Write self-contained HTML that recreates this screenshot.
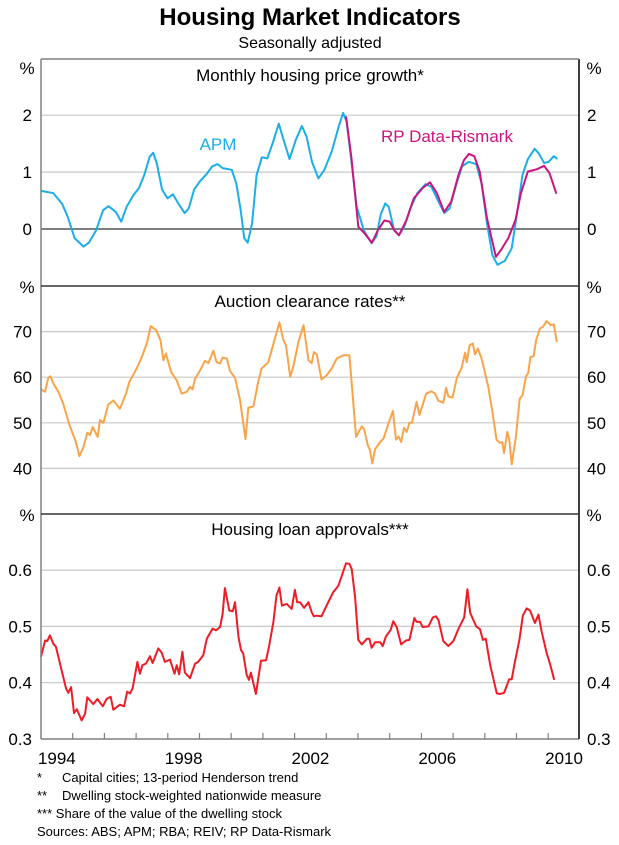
<!DOCTYPE html>
<html><head><meta charset="utf-8"><style>
body{margin:0;background:#fff;}
svg{display:block;font-family:"Liberation Sans",Arial,sans-serif;}
</style></head><body>
<svg id="chart" width="619" height="845" viewBox="0 0 619 845">
<text x="310" y="25" text-anchor="middle" font-size="24" font-weight="bold">Housing Market Indicators</text>
<text x="310" y="48" text-anchor="middle" font-size="16">Seasonally adjusted</text>
<g id="grid"></g>
<g id="series"></g>
<g id="frame"></g>
<g id="labels" font-size="17"></g>
<text x="310" y="81" text-anchor="middle" font-size="17">Monthly housing price growth*</text>
<text x="310" y="307" text-anchor="middle" font-size="17">Auction clearance rates**</text>
<text x="310" y="535" text-anchor="middle" font-size="17">Housing loan approvals***</text>
<text x="218" y="150" text-anchor="middle" font-size="17" fill="#1AAFE6">APM</text>
<text x="447" y="142" text-anchor="middle" font-size="17" fill="#CC1480">RP Data-Rismark</text>
<g font-size="13">
<text x="37" y="782">*</text>
<text x="62" y="782">Capital cities; 13-period Henderson trend</text>
<text x="37" y="800">**</text>
<text x="62" y="800">Dwelling stock-weighted nationwide measure</text>
<text x="37" y="818">*** Share of the value of the dwelling stock</text>
<text x="37" y="836">Sources: ABS; APM; RBA; REIV; RP Data-Rismark</text>
</g>
</svg>
<script>
const apmDates=[1994.01,1994.39,1994.67,1994.84,1995.06,1995.34,1995.51,1995.74,1995.96,1996.13,1996.36,1996.53,1996.7,1996.92,1997.09,1997.26,1997.43,1997.54,1997.65,1997.82,1997.99,1998.16,1998.33,1998.53,1998.66,1998.83,1999.0,1999.23,1999.4,1999.57,1999.73,2000.02,2000.16,2000.3,2000.41,2000.52,2000.66,2000.8,2000.97,2001.14,2001.31,2001.5,2001.65,2001.84,2002.04,2002.23,2002.38,2002.55,2002.75,2002.94,2003.17,2003.39,2003.53,2003.64,2003.79,2003.96,2004.18,2004.43,2004.58,2004.72,2004.86,2004.97,2005.14,2005.29,2005.46,2005.65,2005.87,2006.13,2006.32,2006.49,2006.72,2006.89,2007.11,2007.28,2007.5,2007.73,2007.9,2008.07,2008.24,2008.4,2008.63,2008.85,2009.02,2009.19,2009.36,2009.57,2009.7,2009.87,2010.01,2010.18,2010.29];
const apmValues=[0.67,0.63,0.44,0.22,-0.16,-0.31,-0.24,-0.02,0.33,0.40,0.30,0.13,0.39,0.60,0.72,0.95,1.27,1.34,1.16,0.69,0.54,0.61,0.45,0.28,0.36,0.69,0.83,0.97,1.10,1.14,1.07,1.04,0.80,0.33,-0.16,-0.24,0.10,0.95,1.26,1.24,1.51,1.85,1.57,1.23,1.57,1.81,1.62,1.18,0.89,1.04,1.36,1.80,2.04,1.89,1.21,0.39,-0.02,-0.25,-0.13,0.26,0.45,0.39,-0.02,-0.11,0.04,0.36,0.63,0.79,0.74,0.54,0.28,0.36,0.80,1.10,1.18,1.14,0.80,0.10,-0.46,-0.63,-0.56,-0.34,0.28,0.95,1.23,1.41,1.33,1.16,1.18,1.28,1.23];
const rpDates=[2003.62,2003.79,2004.01,2004.18,2004.44,2004.63,2004.83,2005.0,2005.14,2005.29,2005.53,2005.76,2006.04,2006.27,2006.49,2006.72,2006.94,2007.17,2007.34,2007.5,2007.67,2007.84,2008.07,2008.35,2008.52,2008.74,2008.97,2009.14,2009.36,2009.64,2009.87,2010.04,2010.26];
const rpValues=[1.98,1.27,0.04,-0.06,-0.24,-0.02,0.15,0.13,-0.02,-0.11,0.16,0.54,0.72,0.82,0.63,0.30,0.48,0.95,1.21,1.32,1.28,1.01,0.19,-0.49,-0.36,-0.16,0.16,0.63,1.01,1.05,1.11,0.98,0.62];
const aucDates=[1994.0,1994.13,1994.23,1994.3,1994.39,1994.55,1994.7,1994.9,1995.1,1995.21,1995.34,1995.46,1995.55,1995.63,1995.79,1995.86,1995.97,1996.12,1996.28,1996.49,1996.68,1996.79,1997.02,1997.18,1997.35,1997.46,1997.63,1997.77,1997.86,1997.94,1998.1,1998.28,1998.44,1998.6,1998.7,1998.78,1998.86,1999.02,1999.17,1999.28,1999.44,1999.54,1999.65,1999.73,1999.86,1999.96,2000.12,2000.28,2000.45,2000.54,2000.7,2000.86,2000.96,2001.17,2001.38,2001.52,2001.65,2001.73,2001.86,2001.96,2002.12,2002.28,2002.44,2002.54,2002.61,2002.7,2002.85,2003.01,2003.17,2003.33,2003.54,2003.73,2003.94,2004.12,2004.19,2004.31,2004.38,2004.45,2004.54,2004.7,2004.8,2004.96,2005.1,2005.2,2005.28,2005.36,2005.45,2005.54,2005.62,2005.7,2005.85,2005.94,2006.15,2006.32,2006.43,2006.54,2006.69,2006.78,2006.85,2006.98,2007.12,2007.27,2007.38,2007.43,2007.52,2007.62,2007.69,2007.78,2007.9,2008.11,2008.25,2008.37,2008.48,2008.55,2008.61,2008.71,2008.77,2008.85,2008.98,2009.1,2009.19,2009.3,2009.37,2009.44,2009.54,2009.62,2009.74,2009.83,2009.95,2010.08,2010.18,2010.27];
const aucValues=[57.3,56.8,59.9,60.2,58.6,56.8,54.2,49.5,45.8,42.7,44.7,47.8,47.3,49.1,46.9,50.6,50.0,54.0,54.9,53.1,56.4,59.0,61.9,64.4,67.7,71.2,70.3,68.1,63.7,65.2,61.2,59.3,56.4,56.8,57.9,57.3,59.7,61.5,63.6,63.1,65.8,63.3,63.0,64.3,64.1,61.4,59.9,54.9,46.4,53.3,53.6,59.3,61.9,63.3,68.5,72.0,68.1,67.0,60.1,62.3,67.7,71.4,63.7,63.1,65.5,65.0,59.5,60.4,61.9,64.1,64.8,64.8,46.9,49.2,48.7,45.1,44.0,41.1,44.2,45.8,46.5,49.8,52.6,46.3,47.0,45.8,48.9,48.0,50.0,50.0,54.6,51.7,56.4,56.9,56.4,54.8,54.4,57.7,55.8,55.5,59.9,62.1,65.4,63.3,67.0,67.4,65.0,66.3,64.1,57.9,52.0,46.3,45.6,45.8,43.4,48.0,46.5,40.9,46.9,55.3,56.0,60.2,60.9,64.4,64.6,68.2,70.7,71.0,72.3,71.4,71.6,67.7];
const loanDates=[1994.0,1994.13,1994.2,1994.28,1994.39,1994.47,1994.6,1994.79,1994.86,1994.95,1995.04,1995.13,1995.28,1995.39,1995.46,1995.65,1995.78,1995.95,1996.07,1996.2,1996.28,1996.49,1996.62,1996.72,1996.81,1996.89,1997.04,1997.12,1997.2,1997.31,1997.44,1997.52,1997.7,1997.81,1997.91,1998.07,1998.21,1998.28,1998.36,1998.46,1998.54,1998.7,1998.86,1998.96,1999.12,1999.23,1999.41,1999.52,1999.65,1999.73,1999.8,1999.94,2000.05,2000.12,2000.23,2000.31,2000.38,2000.49,2000.56,2000.62,2000.78,2000.94,2001.1,2001.2,2001.33,2001.43,2001.52,2001.6,2001.75,2001.91,2002.01,2002.08,2002.17,2002.3,2002.44,2002.54,2002.61,2002.7,2002.85,2003.01,2003.22,2003.38,2003.49,2003.62,2003.73,2003.8,2003.91,2004.01,2004.12,2004.28,2004.36,2004.43,2004.54,2004.7,2004.78,2004.88,2005.03,2005.11,2005.22,2005.36,2005.51,2005.62,2005.78,2005.85,2005.96,2006.04,2006.22,2006.36,2006.46,2006.54,2006.69,2006.85,2007.01,2007.17,2007.35,2007.45,2007.54,2007.73,2007.85,2007.94,2008.03,2008.17,2008.38,2008.48,2008.61,2008.77,2008.85,2008.95,2009.09,2009.2,2009.32,2009.43,2009.58,2009.69,2009.79,2009.95,2010.06,2010.19];
const loanValues=[.446,.475,.474,.484,.469,.464,.434,.390,.382,.392,.346,.353,.333,.345,.374,.362,.371,.358,.371,.375,.352,.361,.358,.384,.381,.390,.437,.416,.431,.434,.447,.435,.461,.453,.437,.441,.416,.431,.415,.455,.418,.408,.434,.437,.449,.478,.496,.493,.499,.522,.568,.528,.527,.543,.481,.458,.452,.414,.405,.418,.380,.439,.440,.466,.508,.555,.569,.537,.540,.531,.565,.543,.543,.533,.543,.525,.518,.519,.518,.537,.561,.572,.590,.612,.611,.602,.552,.476,.468,.478,.478,.462,.472,.472,.465,.482,.494,.509,.499,.468,.475,.476,.515,.508,.508,.499,.500,.516,.518,.511,.474,.465,.474,.496,.516,.566,.524,.500,.495,.476,.478,.431,.381,.380,.382,.406,.406,.437,.476,.519,.532,.528,.506,.521,.492,.453,.433,.405];
const p1Ticks=[2,1,0];
const p2Ticks=[70,60,50,40];
const p3Ticks=["0.6","0.5","0.4","0.3"];
const yearLabels=[1994,1998,2002,2006,2010];

const NS="http://www.w3.org/2000/svg";
const L=41,R=579;
function xS(t){return L+(t-1994)*31.7;}
function y1(v){return 229-v*56.9;}
function y2(v){return 514-(v-30)*4.56;}
function y3(v){return 739-(v-0.3)*563;}
function mk(parent,tag,attrs){const e=document.createElementNS(NS,tag);for(const k in attrs)e.setAttribute(k,attrs[k]);document.getElementById(parent).appendChild(e);return e;}
function line(parent,x1,y1_,x2,y2_,stroke,w){return mk(parent,'line',{x1:x1,y1:y1_,x2:x2,y2:y2_,stroke:stroke,'stroke-width':w});}

p1Ticks.forEach(v=>{const g=line('grid',L,y1(v),R,y1(v),v===0?'#555':'#c8c8c8',v===0?1.5:1.2);

});
p2Ticks.forEach(v=>{const g=line('grid',L,y2(v),R,y2(v),'#c8c8c8',1.2);

});
p3Ticks.forEach(v=>{if(+v===0.3)return;const g=line('grid',L,y3(+v),R,y3(+v),'#c8c8c8',1.2);

});

function series(dates,vals,yf,color,name){
  let d='';dates.forEach((t,i)=>{d+=(i?'L':'M')+xS(t).toFixed(1)+','+yf(vals[i]).toFixed(1);});
  const p=mk('series','path',{d:d,fill:'none',stroke:color,'stroke-width':2,'stroke-linejoin':'round'});
  
  
}
series(apmDates,apmValues,y1,'#1AAFE6','apm-line');
series(rpDates,rpValues,y1,'#CC1480','rp-data-line');
series(aucDates,aucValues,y2,'#F9A44A','auction-clearance-line');
series(loanDates,loanValues,y3,'#EE1C25','loan-approvals-line');

[[L,59,L,739,'#808080'],[L,739,R,739,'#808080'],[R,59,R,739,'#000'],[L,59,R,59,'#808080'],[L,286,R,286,'#333'],[L,514,R,514,'#333']].forEach(a=>{
  const f=line('frame',a[0],a[1],a[2],a[3],a[4],1.5);
  
  
});
for(let yr=1995;yr<=2010;yr++){const tk=line('frame',xS(yr),733,xS(yr),739,'#808080',1.2);

}

function txt(x,y,s,anchor,name){const t=mk('labels','text',{x:x,y:y,'text-anchor':anchor});t.textContent=s;

return t;}
yearLabels.forEach(yr=>{txt(xS(yr+0.5),764,String(yr),'middle','x-tick-label');});
p1Ticks.forEach(v=>{txt(32,y1(v)+6,String(v),'end','y-tick-label-left');txt(587,y1(v)+6,String(v),'start','y-tick-label-right');});
p2Ticks.forEach(v=>{txt(32,y2(v)+6,String(v),'end','y-tick-label-left');txt(587,y2(v)+6,String(v),'start','y-tick-label-right');});
p3Ticks.forEach(v=>{txt(32,y3(+v)+6,v,'end','y-tick-label-left');txt(587,y3(+v)+6,v,'start','y-tick-label-right');});
[74,293,521].forEach(y=>{txt(27,y,'%','middle','unit-label-left');txt(594,y,'%','middle','unit-label-right');});
</script>
</body></html>
